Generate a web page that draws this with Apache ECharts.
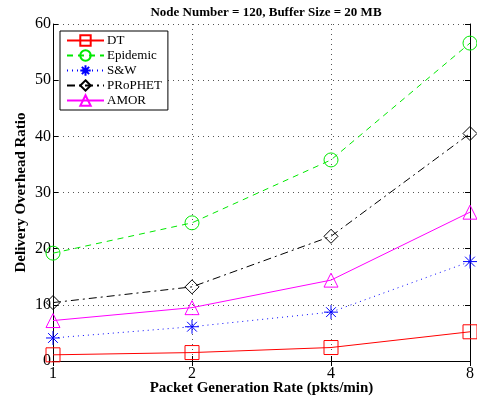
<!DOCTYPE html>
<html>
<head>
<meta charset="utf-8">
<script src="https://cdn.jsdelivr.net/npm/echarts@6/dist/echarts.min.js"></script>
<style>
  html, body { margin: 0; padding: 0; background: #fff; }
  #chart { width: 477px; height: 399px; }
</style>
</head>
<body>
<div id="chart"></div>
<script>
// data
const rates = ['1', '2', '4', '8'];
const dtData = [1.1, 1.5, 2.4, 5.2];
const epidemicData = [19.2, 24.6, 35.8, 56.6];
const swData = [4.1, 6.1, 8.7, 17.7];
const prophetData = [10.4, 13.2, 22.2, 40.5];
const amorData = [7.2, 9.5, 14.4, 26.5];

const FONT = '"Liberation Serif", "DejaVu Serif", serif';
const STAR = 'path://M0,-10L0,10M-10,0L10,0M-7,-7L7,7M-7,7L7,-7';

const chart = echarts.init(document.getElementById('chart'));

// line series with hollow marker, matlab style
function makeSeries(name, data, color, symbol, lineType) {
  return {
    name: name,
    type: 'line',
    data: data,
    symbol: symbol,
    symbolSize: 14,
    showAllSymbol: true,
    lineStyle: { color: color, width: 1, type: lineType },
    itemStyle: { color: 'rgba(0,0,0,0)', borderColor: color, borderWidth: 1 },
    emphasis: { disabled: true },
  };
}

const axisBase = {
  axisLine: { show: true, lineStyle: { color: '#000', width: 1 } },
  axisTick: { show: true, inside: true, length: 5, lineStyle: { color: '#000' } },
};

const option = {
  animation: false,
  textStyle: { fontFamily: FONT },
  title: {
    text: 'Node Number = 120, Buffer Size = 20 MB',
    left: 261,
    textAlign: 'center',
    top: 1,
    textStyle: { fontFamily: FONT, fontWeight: 'bold', fontSize: 13, color: '#000' },
  },
  legend: {
    orient: 'vertical',
    left: 60,
    top: 31,
    padding: [3, 6, 3, 6],
    itemGap: 2,
    itemWidth: 37,
    itemHeight: 13,
    backgroundColor: '#fff',
    borderColor: '#000',
    borderWidth: 1,
    borderRadius: 0,
    textStyle: { fontFamily: FONT, fontSize: 13, color: '#000', padding: [0, 0, 0, -2] },
  },
  grid: { left: 53, right: 7, top: 24, bottom: 38, outerBoundsMode: 'none' },
  xAxis: [
    {
      ...axisBase,
      type: 'category',
      data: rates,
      boundaryGap: false,
      name: 'Packet Generation Rate (pkts/min)',
      nameLocation: 'middle',
      nameGap: 20,
      nameMoveOverlap: false,
      nameTextStyle: { fontFamily: FONT, fontWeight: 'bold', fontSize: 15, color: '#000' },
      axisLabel: { fontFamily: FONT, fontSize: 16, color: '#000', margin: 5 },
      splitLine: { show: true, lineStyle: { color: '#555', type: [1, 4], width: 1 } },
    },
    {
      ...axisBase,
      type: 'category',
      data: rates,
      boundaryGap: false,
      position: 'top',
      axisLabel: { show: false },
      splitLine: { show: false },
    },
  ],
  yAxis: [
    {
      ...axisBase,
      type: 'value',
      min: 0,
      max: 60,
      interval: 10,
      name: 'Delivery Overhead Ratio',
      nameLocation: 'middle',
      nameGap: 24,
      nameMoveOverlap: false,
      nameTextStyle: { fontFamily: FONT, fontWeight: 'bold', fontSize: 15, color: '#000' },
      axisLabel: { fontFamily: FONT, fontSize: 16, color: '#000', margin: 2 },
      splitLine: { show: true, lineStyle: { color: '#555', type: [1, 4], width: 1 } },
    },
    {
      ...axisBase,
      type: 'value',
      min: 0,
      max: 60,
      interval: 10,
      position: 'right',
      axisLabel: { show: false },
      splitLine: { show: false },
    },
  ],
  series: [
    makeSeries('DT', dtData, '#ff0000', 'rect', 'solid'),
    makeSeries('Epidemic', epidemicData, '#00e800', 'circle', [6, 5]),
    makeSeries('S&W', swData, '#0000ff', STAR, [1, 4]),
    makeSeries('PRoPHET', prophetData, '#000000', 'diamond', [8, 4, 2, 4]),
    makeSeries('AMOR', amorData, '#ff00ff', 'triangle', 'solid'),
  ],
};

chart.setOption(option);
</script>
</body>
</html>
